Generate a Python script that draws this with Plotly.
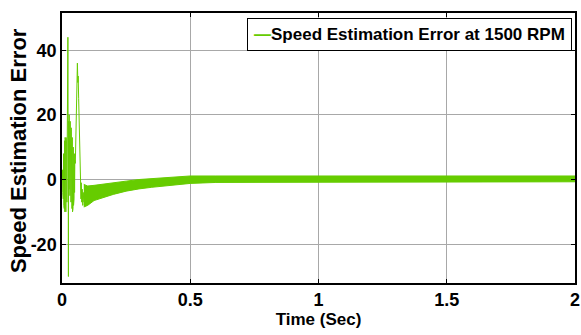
import plotly.graph_objects as go

# ---- data ----
# transient part: time (s) and speed estimation error
t_tr = [0.000, 0.002, 0.003, 0.004, 0.005, 0.006, 0.007, 0.008, 0.009, 0.010,
        0.011, 0.012, 0.013, 0.014, 0.015, 0.016, 0.017, 0.018, 0.019, 0.020,
        0.021, 0.022, 0.023, 0.024, 0.025, 0.026, 0.027, 0.028, 0.029, 0.030,
        0.031, 0.032, 0.033, 0.034, 0.035, 0.036, 0.037, 0.038, 0.039, 0.040,
        0.041, 0.042, 0.043, 0.044, 0.045, 0.046, 0.047, 0.048, 0.049, 0.050,
        0.052, 0.055, 0.058, 0.060, 0.062, 0.063, 0.065, 0.068,
        0.070, 0.072, 0.074, 0.075, 0.077, 0.079, 0.081, 0.083, 0.085]
e_tr = [0, 3, -4, 6, -6, 8, -8, 10, -9, 12,
        -10, 13, -9, 12, -10, 13, -8, 11, -7, 9,
        -5, 20, 44, 10, -30, 18, -3, 20, -2, 19,
        -5, 18, -6, 17, -7, 16, -8, 14, -9, 13,
        -10, 11, -9, 10, -8, 9, -6, 8, -4, 6,
        5, 15, 30, 36, 30, 32, 25, 12,
        4, -3, -6, -1, -7, -3, -8, -4, -7]

# settled part: upper / lower envelope of the noisy error band
t_band = [0.085, 0.10, 0.125, 0.15, 0.20, 0.25, 0.30, 0.35, 0.40, 0.50,
          0.60, 0.80, 1.00, 1.25, 1.50, 1.75, 2.00]
e_upper = [-1.5, -2.0, -1.8, -1.5, -1.0, -0.5, 0.0, 0.3, 0.6, 1.1,
           1.1, 1.1, 1.1, 1.1, 1.1, 1.1, 1.1]
e_lower = [-8.5, -8.0, -6.5, -5.8, -4.6, -3.6, -2.9, -2.4, -1.9, -1.2,
           -0.9, -0.8, -0.7, -0.7, -0.7, -0.7, -0.7]

x_ticks = [0, 0.5, 1, 1.5, 2]
x_ticklabels = ["0", "0.5", "1", "1.5", "2"]
y_ticks = [-20, 0, 20, 40]
y_ticklabels = ["-20", "0", "20", "40"]

SERIES_NAME = "Speed Estimation Error at 1500 RPM"
GREEN = "#66cc00"
FONT = "Liberation Sans, Arial"

fig = go.Figure()

# noisy band as filled polygon
fig.add_trace(go.Scatter(
    x=t_band + t_band[::-1],
    y=e_upper + e_lower[::-1],
    fill="toself", fillcolor=GREEN,
    line=dict(color=GREEN, width=1),
    mode="lines", showlegend=False, hoverinfo="skip",
))
# transient oscillation
fig.add_trace(go.Scatter(
    x=t_tr, y=e_tr, mode="lines",
    line=dict(color=GREEN, width=1),
    name=SERIES_NAME,
    showlegend=False,
))

axis_common = dict(
    showline=True, linecolor="black", linewidth=1.5, mirror="all",
    ticks="inside", ticklen=4, tickcolor="black", tickwidth=1,
    showgrid=True, gridcolor="#a8a8a8", gridwidth=1,
    zeroline=False, ticklabeloverflow="allow",
    tickfont=dict(family=FONT, size=18, color="black", weight="bold"),
)

fig.update_xaxes(
    range=[0, 2], tickvals=x_ticks, ticktext=x_ticklabels,
    title=dict(text="Time (Sec)", standoff=2,
               font=dict(family=FONT, size=17, color="black", weight="bold")),
    **axis_common,
)
fig.update_yaxes(
    range=[-32, 51.5], tickvals=y_ticks, ticktext=y_ticklabels,
    **axis_common,
)

# y-axis title placed precisely
fig.add_annotation(
    xref="paper", yref="paper", x=-0.085, y=0.49,
    xanchor="center", yanchor="middle", showarrow=False, textangle=-90,
    text="Speed Estimation Error",
    font=dict(family=FONT, size=22, color="black", weight="bold"),
)

# legend box (short line sample + label), as in the reference
fig.add_annotation(
    xref="paper", yref="paper", x=0.995, y=0.982,
    xanchor="right", yanchor="top", showarrow=False,
    text=f"<span style='color:{GREEN}'>—</span>{SERIES_NAME}",
    font=dict(family=FONT, size=17, color="black", weight="bold"),
    bgcolor="white", bordercolor="black", borderwidth=1, borderpad=6,
)

fig.update_layout(
    width=581, height=335,
    margin=dict(l=62, r=6, t=13, b=52, autoexpand=False),
    paper_bgcolor="white", plot_bgcolor="white",
    showlegend=False,
)

fig.write_html("out.html")
